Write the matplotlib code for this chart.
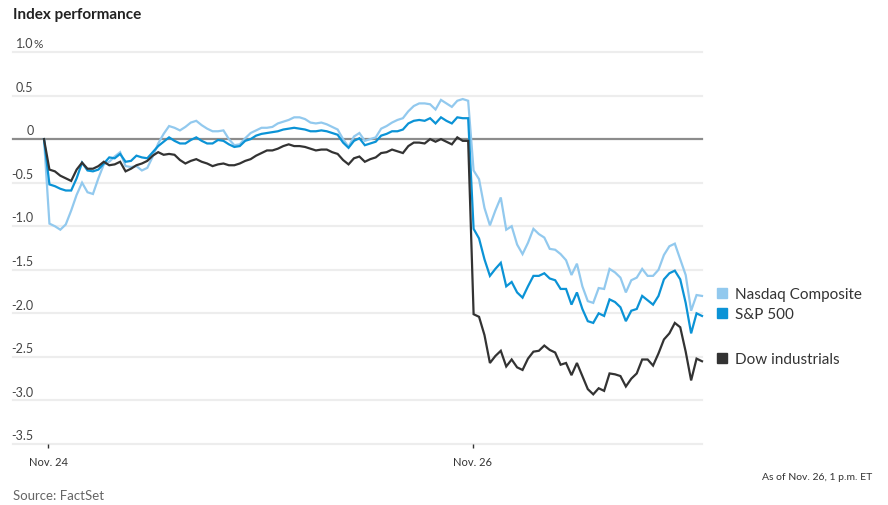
import numpy as np
import matplotlib
matplotlib.use('Agg')
import matplotlib.pyplot as plt
import matplotlib.transforms as mtransforms

plt.rcParams['font.family'] = ['Lato', 'DejaVu Sans']

# % change, 5-minute steps: Nov. 24 full session, then Nov. 26 half session
nasdaq_nov24 = [0, -0.97, -1.00, -1.04, -0.98, -0.82, -0.64, -0.50, -0.61, -0.63,
                -0.45, -0.29, -0.26, -0.20, -0.15, -0.31, -0.32, -0.31, -0.36, -0.33,
                -0.20, -0.05, 0.06, 0.15, 0.13, 0.10, 0.14, 0.19, 0.21, 0.16,
                0.12, 0.09, 0.09, 0.10, 0.00, -0.07, -0.06, 0.01, 0.07, 0.10,
                0.13, 0.13, 0.14, 0.18, 0.20, 0.22, 0.25, 0.25, 0.23, 0.19,
                0.18, 0.19, 0.17, 0.14, 0.11, 0.00, -0.09, 0.03, 0.07, -0.02,
                0.00, 0.02, 0.12, 0.15, 0.19, 0.22, 0.24, 0.32, 0.38, 0.41,
                0.41, 0.40, 0.34, 0.45, 0.41, 0.37, 0.44, 0.46, 0.44]
nasdaq_nov26 = [-0.36, -0.46, -0.79, -0.99, -0.82, -0.67, -1.04, -1.00, -1.21, -1.32,
                -1.19, -1.03, -1.09, -1.13, -1.26, -1.27, -1.32, -1.39, -1.56, -1.43,
                -1.69, -1.86, -1.88, -1.71, -1.72, -1.49, -1.53, -1.59, -1.76, -1.62,
                -1.59, -1.49, -1.57, -1.57, -1.50, -1.33, -1.23, -1.20, -1.38, -1.56,
                -1.97, -1.79, -1.80]

sp_nov24 = [0, -0.52, -0.54, -0.57, -0.59, -0.59, -0.45, -0.27, -0.36, -0.37,
            -0.35, -0.28, -0.21, -0.22, -0.17, -0.26, -0.25, -0.19, -0.21, -0.22,
            -0.15, -0.08, -0.03, 0.02, -0.02, -0.05, -0.05, -0.01, 0.02, -0.02,
            -0.05, -0.05, -0.01, -0.02, -0.06, -0.09, -0.08, -0.02, 0.00, 0.04,
            0.06, 0.07, 0.08, 0.09, 0.11, 0.12, 0.13, 0.12, 0.11, 0.09,
            0.09, 0.10, 0.09, 0.07, 0.05, -0.04, -0.10, -0.02, 0.01, -0.07,
            -0.05, -0.03, 0.04, 0.06, 0.09, 0.09, 0.11, 0.18, 0.21, 0.22,
            0.21, 0.24, 0.18, 0.25, 0.21, 0.18, 0.25, 0.24, 0.24]
sp_nov26 = [-1.03, -1.14, -1.38, -1.57, -1.49, -1.42, -1.69, -1.64, -1.76, -1.82,
            -1.69, -1.57, -1.57, -1.54, -1.60, -1.62, -1.72, -1.72, -1.90, -1.76,
            -1.95, -2.09, -2.11, -2.00, -2.03, -1.84, -1.87, -1.93, -2.09, -1.97,
            -1.95, -1.80, -1.85, -1.90, -1.80, -1.61, -1.54, -1.51, -1.61, -1.88,
            -2.23, -2.00, -2.03]

dow_nov24 = [0, -0.35, -0.37, -0.42, -0.45, -0.48, -0.35, -0.27, -0.34, -0.34,
             -0.31, -0.26, -0.30, -0.29, -0.26, -0.37, -0.34, -0.30, -0.28, -0.25,
             -0.19, -0.15, -0.18, -0.17, -0.18, -0.24, -0.28, -0.25, -0.23, -0.26,
             -0.28, -0.31, -0.29, -0.28, -0.30, -0.30, -0.28, -0.25, -0.23, -0.19,
             -0.16, -0.13, -0.13, -0.11, -0.08, -0.06, -0.08, -0.08, -0.09, -0.11,
             -0.13, -0.12, -0.12, -0.15, -0.17, -0.24, -0.29, -0.22, -0.20, -0.26,
             -0.23, -0.21, -0.16, -0.15, -0.12, -0.14, -0.16, -0.08, -0.04, -0.04,
             -0.05, 0.00, -0.03, 0.00, -0.03, -0.06, 0.02, -0.02, -0.02]
dow_nov26 = [-2.01, -2.04, -2.25, -2.57, -2.49, -2.43, -2.61, -2.53, -2.62, -2.65,
             -2.52, -2.44, -2.43, -2.37, -2.42, -2.45, -2.59, -2.57, -2.71, -2.57,
             -2.72, -2.87, -2.93, -2.86, -2.89, -2.69, -2.70, -2.72, -2.84, -2.75,
             -2.69, -2.53, -2.53, -2.60, -2.46, -2.30, -2.23, -2.11, -2.16, -2.44,
             -2.77, -2.52, -2.55]

series_names = ['Nasdaq Composite', 'S&P 500', 'Dow industrials']
series_colors = ['#92c9ee', '#0b93d6', '#333333']
y_ticks = [1.0, 0.5, 0, -0.5, -1.0, -1.5, -2.0, -2.5, -3.0, -3.5]
y_labels = ['1.0', '0.5', '0', '-0.5', '-1.0', '-1.5', '-2.0', '-2.5', '-3.0', '-3.5']
day_labels = ['Nov. 24', 'Nov. 26']

# trading minutes since Nov. 24 open, sessions placed back to back
t24 = np.arange(0, 391, 5)
t26 = 395 + np.arange(0, 211, 5)
t = np.concatenate([t24, t26])

data = [nasdaq_nov24 + nasdaq_nov26, sp_nov24 + sp_nov26, dow_nov24 + dow_nov26]

W, H = 888, 505
fig = plt.figure(figsize=(W / 100, H / 100), dpi=100)
ax = fig.add_axes([13 / W, 1 - 444 / H, (702 - 13) / W, (444 - 52) / H])
ax.set_xlim(-28.5, 605)
ax.set_ylim(-3.5, 1.0)
for s in ax.spines.values():
    s.set_visible(False)

for y in y_ticks:
    if y == 0:
        ax.axhline(y, color='#8c8c8c', lw=1.6, zorder=2, clip_on=False)
    else:
        ax.axhline(y, color='#ededed', lw=1.6, zorder=1, clip_on=False)

lbl_tr = mtransforms.blended_transform_factory(ax.transAxes, ax.transData)
lbl_x = (33.5 - 13) / (702 - 13)
for y, lab in zip(y_ticks, y_labels):
    ax.text(lbl_x, y + 0.02, lab, transform=lbl_tr, ha='right', va='bottom',
            fontsize=9, color='#444444')
ax.text(lbl_x, 1.02, '%', transform=lbl_tr, ha='left', va='bottom',
        fontsize=8.5, color='#444444')

for vals, col in zip(data, series_colors):
    ax.plot(t, vals, color=col, lw=1.6, zorder=3, clip_on=False,
            solid_joinstyle='miter')

# end labels
for vals, col, name in zip(data, series_colors, series_names):
    sq = mtransforms.offset_copy(ax.transData, fig, x=20, y=3, units='dots')
    ax.plot([t[-1]], [vals[-1]], marker='s', ms=7.2, color=col, transform=sq,
            clip_on=False, linestyle='none')
    tx = mtransforms.offset_copy(ax.transData, fig, x=33, y=1, units='dots')
    ax.text(t[-1], vals[-1], name, transform=tx, ha='left', va='center',
            fontsize=11, color='#333333', clip_on=False)

ax.set_yticks([])
ax.set_xticks([4, 394])
ax.set_xticklabels(day_labels, fontsize=8, color='#333333')
ax.tick_params(axis='x', direction='out', length=3, width=1, color='#333333', pad=6)

fig.text(13 / W, 1 - 15 / H, 'Index performance', fontsize=11, fontweight='bold',
         color='#222222', ha='left', va='center')
fig.text(872 / W, 1 - 478 / H, 'As of Nov. 26, 1 p.m. ET', fontsize=7.5,
         color='#333333', ha='right', va='center')
fig.text(13 / W, 1 - 496 / H, 'Source: FactSet', fontsize=9.5, color='#666666',
         ha='left', va='center')

fig.savefig('out.png', dpi=100)
